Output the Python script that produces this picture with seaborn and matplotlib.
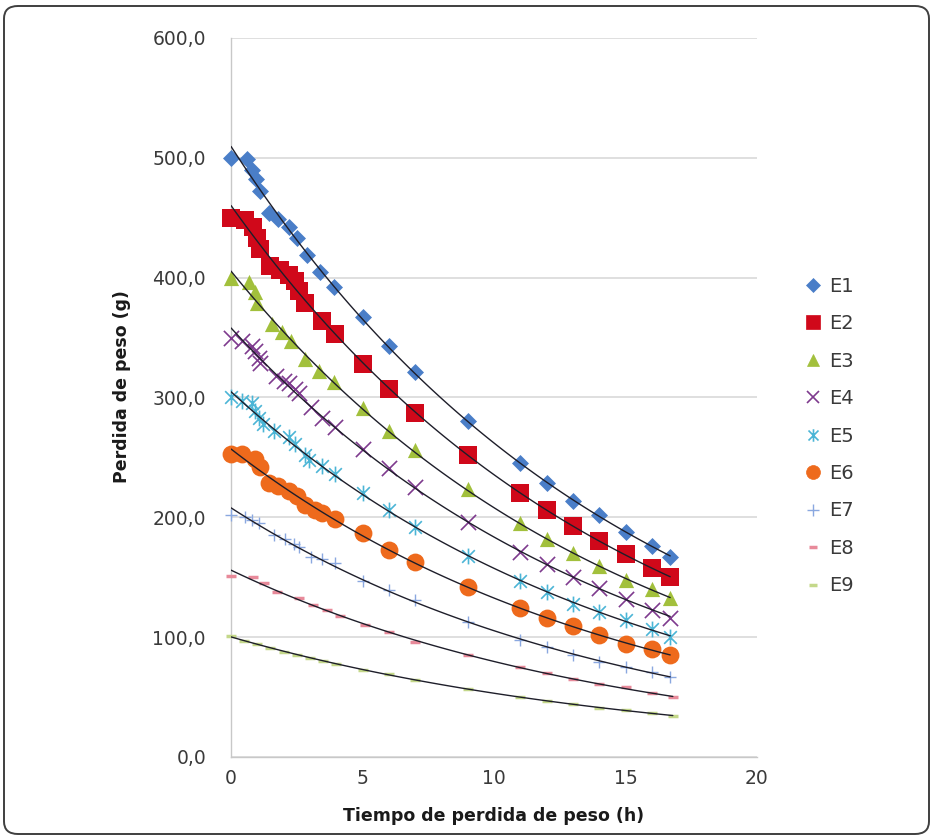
import numpy as np
import pandas as pd
import seaborn as sns
import matplotlib
matplotlib.use("Agg")
import matplotlib.pyplot as plt
from matplotlib.path import Path
from matplotlib.lines import Line2D
from matplotlib.patches import FancyBboxPatch
from matplotlib.ticker import FuncFormatter

# ---------------- data ----------------
series = ["E1", "E2", "E3", "E4", "E5", "E6", "E7", "E8", "E9"]

t_E1 = [0, 0.6, 0.8, 0.95, 1.1, 1.45, 1.8, 2.2, 2.5, 2.9, 3.4, 3.9, 5, 6, 7, 9, 11, 12, 13, 14, 15, 16, 16.7]
y_E1 = [500, 499, 490, 482, 472, 454, 449, 442, 433, 419, 405, 392, 367, 343, 321, 280, 245, 229, 214, 202, 188, 176, 167]

t_E2 = [0, 0.55, 0.85, 1.0, 1.1, 1.5, 1.85, 2.2, 2.45, 2.6, 2.8, 3.45, 3.95, 5, 6, 7, 9, 11, 12, 13, 14, 15, 16, 16.7]
y_E2 = [450, 448, 442, 433, 424, 410, 406, 402, 397, 389, 379, 364, 353, 328, 307, 287, 252, 220, 206, 193, 180, 169, 158, 150]

t_E3 = [0, 0.7, 0.9, 1.0, 1.55, 1.95, 2.3, 2.8, 3.35, 3.9, 5, 6, 7, 9, 11, 12, 13, 14, 15, 16, 16.7]
y_E3 = [400, 396, 388, 379, 361, 355, 347, 332, 322, 313, 291, 272, 256, 224, 195, 182, 170, 159, 148, 140, 133]

t_E4 = [0, 0.4, 0.8, 0.9, 1.05, 1.1, 1.7, 2.0, 2.2, 2.45, 2.6, 3.05, 3.45, 3.95, 5, 6, 7, 9, 11, 12, 13, 14, 15, 16, 16.7]
y_E4 = [350, 347, 343, 339, 333, 329, 318, 314, 312, 307, 304, 292, 283, 275, 257, 241, 225, 196, 171, 161, 150, 141, 132, 123, 116]

t_E5 = [0, 0.4, 0.8, 0.9, 1.05, 1.2, 1.65, 2.2, 2.45, 2.8, 2.95, 3.45, 3.95, 5, 6, 7, 9, 11, 12, 13, 14, 15, 16, 16.7]
y_E5 = [300, 297, 295, 289, 283, 278, 272, 267, 261, 252, 248, 243, 236, 220, 206, 192, 168, 147, 138, 128, 121, 114, 107, 100]

t_E6 = [0, 0.4, 0.9, 1.1, 1.45, 1.8, 2.2, 2.5, 2.8, 3.2, 3.45, 3.95, 5, 6, 7, 9, 11, 12, 13, 14, 15, 16, 16.7]
y_E6 = [253, 253, 249, 242, 229, 226, 222, 218, 210, 206, 204, 199, 187, 173, 163, 142, 124, 116, 109, 102, 94, 90, 85]

t_E7 = [0, 0.55, 0.8, 1.05, 1.65, 2.05, 2.4, 2.6, 3.05, 3.45, 3.95, 5, 6, 7, 9, 11, 12, 13, 14, 15, 16, 16.7]
y_E7 = [202, 200, 198, 195, 185, 182, 178, 175, 167, 165, 162, 147, 139, 131, 113, 98, 92, 85, 79, 75, 71, 67]

t_E8 = [0, 0.85, 1.25, 1.75, 2.6, 3.1, 3.65, 4.15, 5.1, 6.0, 7, 9, 11, 12, 13, 14, 15, 16, 16.8]
y_E8 = [151, 150, 145, 138, 133, 127, 123, 118, 110, 104, 96, 85, 75, 70, 65, 61, 58, 53, 50]

t_E9 = [0, 0.5, 1.0, 1.5, 2.0, 2.5, 3.0, 3.5, 4.0, 5, 6, 7, 9, 11, 12, 13, 14, 15, 16, 16.8]
y_E9 = [101, 97, 94, 91, 88, 85, 83, 80, 78, 73, 69, 64, 57, 50, 47, 44, 41, 39, 37, 34]

x_ticks = [0, 5, 10, 15, 20]
y_ticks = [0, 100, 200, 300, 400, 500, 600]

times = [t_E1, t_E2, t_E3, t_E4, t_E5, t_E6, t_E7, t_E8, t_E9]
values = [y_E1, y_E2, y_E3, y_E4, y_E5, y_E6, y_E7, y_E8, y_E9]

df = pd.concat(
    [pd.DataFrame({"serie": s, "t": t, "y": y}) for s, t, y in zip(series, times, values)],
    ignore_index=True,
)

# ---------------- styles ----------------
asterisk = Path(
    [(-0.4, -0.4), (0.4, 0.4), (-0.4, 0.4), (0.4, -0.4), (0, -0.5), (0, 0.5)],
    [Path.MOVETO, Path.LINETO, Path.MOVETO, Path.LINETO, Path.MOVETO, Path.LINETO],
)

style = {
    "E1": dict(marker="D", color="#4A7EC8", s=75, lw=0.0, leg_ms=7.0),
    "E2": dict(marker="s", color="#D0081A", s=160, lw=0.0, leg_ms=9.5),
    "E3": dict(marker="^", color="#A2C03C", s=120, lw=0.0, leg_ms=9.0),
    "E4": dict(marker="x", color="#7E3A8E", s=120, lw=1.2, leg_ms=8.0),
    "E5": dict(marker=asterisk, color="#4BB5D6", s=130, lw=1.2, leg_ms=9.0),
    "E6": dict(marker="o", color="#EE6A1C", s=165, lw=0.0, leg_ms=10.0),
    "E7": dict(marker="+", color="#8AA8E0", s=80, lw=1.0, leg_ms=8.0),
    "E8": dict(marker="_", color="#E88A9A", s=45, lw=2.5, leg_ms=6.0),
    "E9": dict(marker="_", color="#C4D88A", s=45, lw=2.5, leg_ms=6.0),
}

sns.set_theme(style="white")
plt.rcParams["font.family"] = ["DejaVu Sans"]

W, H = 934, 839
fig = plt.figure(figsize=(W / 100, H / 100), dpi=100)
fig.patch.set_facecolor("white")

# rounded outer frame
frame = FancyBboxPatch((4 / W, 5 / H), (929 - 4) / W, (833 - 5) / H,
                       boxstyle="round,pad=0,rounding_size=0.015",
                       transform=fig.transFigure, fill=False,
                       edgecolor="#3F3F3F", linewidth=1.4, zorder=0)
fig.patches.append(frame)

ax = fig.add_axes([231 / W, 1 - 757 / H, (757 - 231) / W, (757 - 38) / H])
ax.set_facecolor("white")

handles = []
for s in series:
    st = style[s]
    sub = df[df["serie"] == s]
    sns.scatterplot(data=sub, x="t", y="y", ax=ax, marker=st["marker"], s=st["s"],
                    color=st["color"], edgecolor=st["color"], linewidth=st["lw"],
                    legend=False, zorder=3, clip_on=False)
    # exponential trend line fitted to the data
    tt = np.asarray(sub["t"], dtype=float)
    yy = np.asarray(sub["y"], dtype=float)
    b, a = np.polyfit(tt, np.log(yy), 1)
    tf = np.linspace(0, tt.max(), 120)
    sns.lineplot(x=tf, y=np.exp(a + b * tf), ax=ax, color="#1E1E2A", linewidth=1.0,
                 estimator=None, sort=False, legend=False, zorder=4)
    h = Line2D([], [], linestyle="none", marker=st["marker"], markersize=st["leg_ms"],
               color=st["color"], markeredgecolor=st["color"],
               markeredgewidth=max(st["lw"], 0.5))
    handles.append(h)

ax.set_xlim(0, 20)
ax.set_ylim(0, 600)
ax.set_xticks(x_ticks)
ax.set_yticks(y_ticks)
ax.yaxis.set_major_formatter(FuncFormatter(lambda v, p: f"{v:.1f}".replace(".", ",")))
ax.xaxis.set_major_formatter(FuncFormatter(lambda v, p: f"{v:.0f}"))

ax.yaxis.grid(True, color="#D9D9D9", linewidth=1.2)
ax.xaxis.grid(False)
ax.set_axisbelow(True)
for side in ["top", "right"]:
    ax.spines[side].set_visible(False)
for side in ["left", "bottom"]:
    ax.spines[side].set_visible(True)
    ax.spines[side].set_color("#C8C8C8")
    ax.spines[side].set_linewidth(1.0)

ax.tick_params(axis="y", length=0, pad=18, labelsize=13.5, labelcolor="#3A3A3A")
ax.tick_params(axis="x", length=0, pad=9, labelsize=13.5, labelcolor="#3A3A3A")

ax.set_xlabel("Tiempo de perdida de peso (h)", fontsize=12.5, fontweight="bold", color="#1A1A1A")
ax.set_ylabel("Perdida de peso (g)", fontsize=12.5, fontweight="bold", color="#1A1A1A")
ax.xaxis.label.set_va("center")
ax.yaxis.label.set_va("center")
ax.xaxis.set_label_coords((494 - 231) / (757 - 231), (757 - 816) / (757 - 38))
ax.yaxis.set_label_coords((122 - 231) / (757 - 231), (757 - 387) / (757 - 38))

leg = fig.legend(handles, series, loc="center left",
                 bbox_to_anchor=(803 / W, 1 - 436 / H), bbox_transform=fig.transFigure,
                 frameon=False, fontsize=14, handlelength=1.0, handletextpad=0.35,
                 labelspacing=0.95, borderpad=0, borderaxespad=0)
for txt in leg.get_texts():
    txt.set_color("#3A3A3A")

fig.savefig("out.png", dpi=100, facecolor="white")
